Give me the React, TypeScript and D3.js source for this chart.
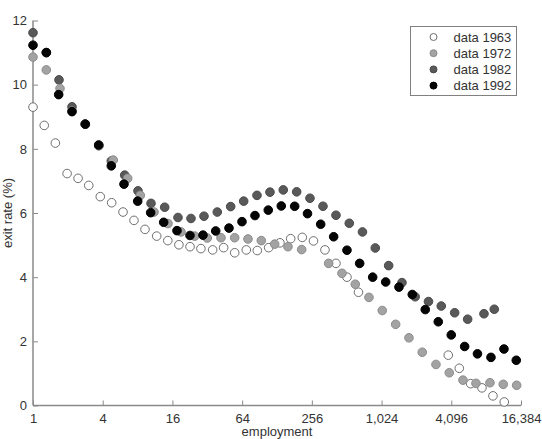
import { useEffect, useRef } from 'react'
import * as d3 from 'd3'

// ── Data ──────────────────────────────────────────────────────────────────────
const emp1963 = [1, 1.25, 1.56, 1.97, 2.45, 3.03, 3.81, 4.78, 5.99, 7.45, 9.27, 11.7, 14.6, 18.2, 22.7, 28.2, 35.6, 44.3, 55.2, 69.5, 86.5, 108.5, 135.8, 168, 211.6, 264.4, 332.3, 413.5, 514.7, 646.9, 3857, 4801, 6022, 7538, 9382, 11745]
const rate1963 = [9.3, 8.73, 8.18, 7.23, 7.08, 6.86, 6.51, 6.32, 6.03, 5.77, 5.49, 5.28, 5.14, 5.01, 4.95, 4.89, 4.85, 4.92, 4.76, 4.85, 4.83, 4.92, 5.07, 5.2, 5.24, 5.13, 4.85, 4.43, 4.0, 3.53, 1.57, 1.16, 0.68, 0.55, 0.3, 0.11]

const emp1972 = [1, 1.303, 1.711, 2.172, 2.829, 3.715, 4.936, 6.573, 8.445, 11.09, 14.65, 18.97, 24.91, 32, 42.02, 55.18, 71.88, 93.64, 122.2, 159.2, 209.1, 357.7, 465.9, 607, 797.1, 1038, 1355, 1766, 2300, 3020, 3935, 5167, 6691, 8839, 11514, 15029]
const rate1972 = [10.86, 10.46, 9.88, 9.18, 8.77, 8.1, 7.65, 7.08, 6.55, 6.03, 5.67, 5.41, 5.28, 5.22, 5.23, 5.23, 5.19, 5.14, 5.03, 4.95, 4.86, 4.43, 4.12, 3.78, 3.37, 2.96, 2.53, 2.11, 1.66, 1.28, 1.02, 0.79, 0.69, 0.71, 0.66, 0.63]

const emp1982 = [1, 1.303, 1.677, 2.172, 2.829, 3.693, 4.744, 6.193, 8.067, 10.45, 13.72, 17.87, 23.14, 29.97, 39.04, 50.96, 65.99, 85.97, 111.3, 145, 189.3, 246.6, 319.3, 413.5, 538.8, 700.4, 903.5, 1179, 1536, 1997, 2602, 3356, 4381, 5673, 7845, 9628]
const rate1982 = [11.62, 11.0, 10.15, 9.31, 8.77, 8.1, 7.62, 7.18, 6.69, 6.3, 6.18, 5.86, 5.83, 5.9, 6.03, 6.2, 6.37, 6.55, 6.65, 6.72, 6.66, 6.46, 6.21, 5.93, 5.68, 5.41, 4.91, 4.36, 3.83, 3.39, 3.24, 3.1, 2.89, 2.69, 2.86, 3.0]

const emp1992 = [1, 1.303, 1.667, 2.172, 2.829, 3.693, 4.744, 6.107, 8.019, 10.38, 13.45, 17.52, 22.69, 29.38, 37.82, 49.27, 63.8, 82.61, 107.6, 139.4, 181.9, 234.7, 305.1, 395, 514.7, 662.5, 858, 1111, 1447, 1885, 2441, 3162, 4094, 5344, 6893, 9016, 11676, 14911]
const rate1992 = [11.23, 11.0, 9.69, 9.16, 8.77, 8.12, 7.47, 6.9, 6.37, 6.01, 5.71, 5.45, 5.3, 5.31, 5.44, 5.53, 5.73, 5.92, 6.09, 6.22, 6.21, 5.98, 5.65, 5.26, 4.84, 4.43, 4.0, 3.85, 3.69, 3.46, 2.99, 2.61, 2.2, 1.84, 1.61, 1.5, 1.76, 1.41]

const seriesNames = ['data 1963', 'data 1972', 'data 1982', 'data 1992']
const xTicks = [1, 4, 16, 64, 256, 1024, 4096, 16384]
const yTicks = [0, 2, 4, 6, 8, 10, 12]

const STYLES = [
  { fill: '#ffffff', stroke: '#6e6e6e' },
  { fill: '#a3a3a3', stroke: '#8c8c8c' },
  { fill: '#595959', stroke: '#4a4a4a' },
  { fill: '#050505', stroke: '#000000' },
]

const W = 542
const H = 439
const M = { top: 20.5, right: 21, bottom: 33.5, left: 33 }
const FONT = 'Liberation Sans, Arial, sans-serif'
const AXIS = '#8a8a8a'
const TEXT = '#333333'

export default function App() {
  const svgRef = useRef<SVGSVGElement | null>(null)

  useEffect(() => {
    document.body.style.margin = '0'
    const svg = d3.select(svgRef.current)
    svg.selectAll('*').remove()

    const innerW = W - M.left - M.right
    const innerH = H - M.top - M.bottom

    const x = d3.scaleLog().base(2).domain([1, 16384]).range([0, innerW])
    const y = d3.scaleLinear().domain([0, 12]).range([innerH, 0])

    const g = svg.append('g').attr('transform', `translate(${M.left},${M.top})`)

    // ── Axes ───────────────────────────────────────────────────────────────
    g.append('g').attr('transform', `translate(0,${innerH})`)
      .call(d3.axisBottom(x).tickValues(xTicks).tickSize(-5).tickPadding(8)
        .tickFormat((d) => d3.format(',')(d as number)))
      .call((a) => a.select('.domain').attr('stroke', AXIS).attr('stroke-width', 1.5).attr('d', `M0,0H${innerW}`))
      .call((a) => a.selectAll('line').attr('stroke', AXIS))
      .call((a) => a.selectAll('text').attr('font-size', 13).attr('font-family', FONT).attr('fill', TEXT))

    g.append('g')
      .call(d3.axisLeft(y).tickValues(yTicks).tickSize(-5).tickPadding(6))
      .call((a) => a.select('.domain').attr('stroke', AXIS).attr('stroke-width', 1.5).attr('d', `M0,${innerH}V0`))
      .call((a) => a.selectAll('line').attr('stroke', AXIS))
      .call((a) => a.selectAll('text').attr('font-size', 13).attr('font-family', FONT).attr('fill', TEXT))

    // ── Axis labels ────────────────────────────────────────────────────────
    svg.append('text')
      .attr('x', M.left + innerW / 2).attr('y', H - 3)
      .attr('text-anchor', 'middle').attr('font-size', 13)
      .attr('font-family', FONT).attr('fill', TEXT).text('employment')

    svg.append('text')
      .attr('transform', `translate(12,${M.top + innerH / 2}) rotate(-90)`)
      .attr('text-anchor', 'middle').attr('font-size', 13)
      .attr('font-family', FONT).attr('fill', TEXT).text('exit rate (%)')

    // ── Points ─────────────────────────────────────────────────────────────
    const series = [
      { emp: emp1963, rate: rate1963 },
      { emp: emp1982, rate: rate1982 },
      { emp: emp1972, rate: rate1972 },
      { emp: emp1992, rate: rate1992 },
    ]
    const styleIdx = [0, 2, 1, 3]
    series.forEach((s, si) => {
      const st = STYLES[styleIdx[si]]
      g.append('g').selectAll('circle')
        .data(s.emp.map((e, i) => ({ e, r: s.rate[i] })))
        .join('circle')
        .attr('cx', (d) => x(d.e))
        .attr('cy', (d) => y(d.r))
        .attr('r', 4.3)
        .attr('fill', st.fill)
        .attr('stroke', st.stroke)
        .attr('stroke-width', 1)
    })

    // ── Legend ─────────────────────────────────────────────────────────────
    const lg = svg.append('g').attr('transform', 'translate(410.5,26.5)')
    lg.append('rect').attr('width', 106).attr('height', 69)
      .attr('fill', '#fff').attr('stroke', '#808080').attr('stroke-width', 1)
    seriesNames.forEach((name, i) => {
      const cy = 10.5 + i * 16.2
      lg.append('circle').attr('cx', 23).attr('cy', cy).attr('r', 3.5)
        .attr('fill', STYLES[i].fill).attr('stroke', STYLES[i].stroke)
      lg.append('text').attr('x', 43).attr('y', cy + 4.5)
        .attr('font-size', 13).attr('font-family', FONT).attr('fill', TEXT).text(name)
    })
  }, [])

  return <svg ref={svgRef} width={W} height={H} style={{ display: 'block', background: '#fff' }} />
}
